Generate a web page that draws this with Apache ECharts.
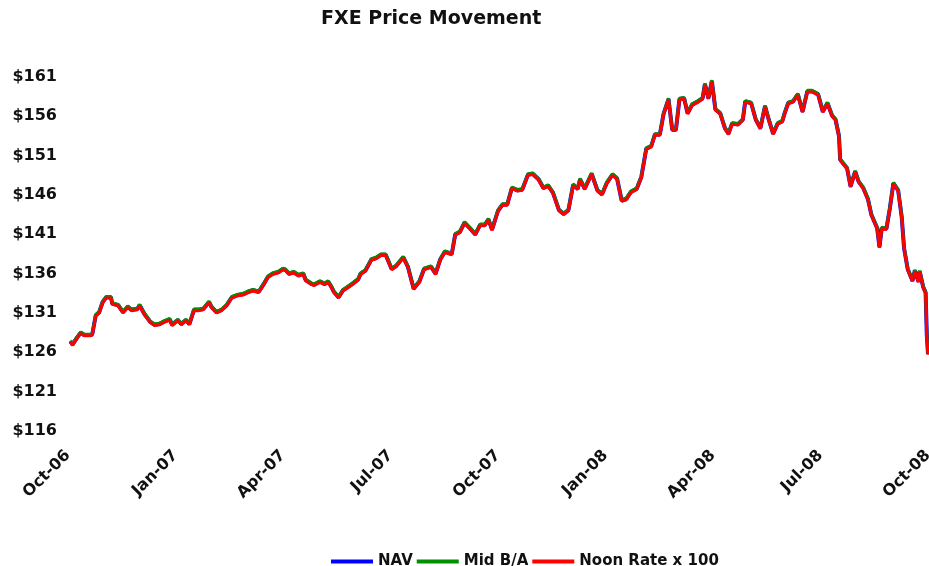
<!DOCTYPE html>
<html>
<head>
<meta charset="utf-8">
<script src="https://cdn.jsdelivr.net/npm/echarts@6/dist/echarts.min.js"></script>
<style>
html,body{margin:0;padding:0;background:#fff;}
#chart{width:929px;height:566px;}
</style>
</head>
<body>
<div id="chart"></div>
<script>
const tickLabels = ['Oct-06','Jan-07','Apr-07','Jul-07','Oct-07','Jan-08','Apr-08','Jul-08','Oct-08'];
const seriesNames = ['NAV','Mid B/A','Noon Rate x 100'];

const dates = [
'2006-10-03','2006-10-05','2006-10-09','2006-10-12','2006-10-15','2006-10-20','2006-10-22','2006-10-25','2006-10-28','2006-10-31',
'2006-11-03','2006-11-07','2006-11-08','2006-11-13','2006-11-17','2006-11-21','2006-11-24','2006-11-29','2006-12-01','2006-12-05',
'2006-12-10','2006-12-14','2006-12-18','2006-12-22','2006-12-27','2006-12-29','2007-01-03','2007-01-06','2007-01-10','2007-01-13',
'2007-01-17','2007-01-21','2007-01-25','2007-01-30','2007-02-01','2007-02-05','2007-02-09','2007-02-13','2007-02-17','2007-02-22',
'2007-02-26','2007-03-02','2007-03-06','2007-03-11','2007-03-15','2007-03-19','2007-03-23','2007-03-28','2007-04-01','2007-04-03',
'2007-04-06','2007-04-10','2007-04-14','2007-04-18','2007-04-20','2007-04-25','2007-04-27','2007-05-02','2007-05-06','2007-05-09',
'2007-05-12','2007-05-14','2007-05-18','2007-05-22','2007-05-26','2007-05-30','2007-06-04','2007-06-06','2007-06-10','2007-06-15',
'2007-06-19','2007-06-23','2007-06-27','2007-07-02','2007-07-06','2007-07-12','2007-07-16','2007-07-21','2007-07-26','2007-07-30',
'2007-08-05','2007-08-09','2007-08-13','2007-08-17','2007-08-23','2007-08-26','2007-08-30','2007-09-03','2007-09-08','2007-09-12',
'2007-09-16','2007-09-20','2007-09-23','2007-09-26','2007-10-01','2007-10-05','2007-10-09','2007-10-13','2007-10-18','2007-10-22',
'2007-10-27','2007-10-31','2007-11-05','2007-11-09','2007-11-13','2007-11-17','2007-11-22','2007-11-26','2007-11-30','2007-12-04',
'2007-12-08','2007-12-10','2007-12-14','2007-12-20','2007-12-25','2007-12-29','2008-01-02','2008-01-07','2008-01-11','2008-01-15',
'2008-01-19','2008-01-23','2008-01-28','2008-02-01','2008-02-05','2008-02-09','2008-02-12','2008-02-16','2008-02-19','2008-02-23',
'2008-02-26','2008-02-29','2008-03-03','2008-03-07','2008-03-10','2008-03-14','2008-03-19','2008-03-23','2008-03-25','2008-03-28',
'2008-03-31','2008-04-03','2008-04-07','2008-04-11','2008-04-14','2008-04-17','2008-04-22','2008-04-26','2008-04-28','2008-05-03',
'2008-05-07','2008-05-11','2008-05-15','2008-05-18','2008-05-22','2008-05-26','2008-05-30','2008-06-01','2008-06-04','2008-06-08',
'2008-06-12','2008-06-16','2008-06-20','2008-06-24','2008-06-29','2008-07-03','2008-07-07','2008-07-11','2008-07-14','2008-07-17',
'2008-07-18','2008-07-24','2008-07-27','2008-07-31','2008-08-03','2008-08-07','2008-08-11','2008-08-14','2008-08-19','2008-08-21',
'2008-08-23','2008-08-27','2008-08-30','2008-09-02','2008-09-06','2008-09-09','2008-09-11','2008-09-14','2008-09-18','2008-09-20',
'2008-09-23','2008-09-24','2008-09-27','2008-09-29','2008-09-30','2008-10-01'
];

const navValues = [
127.4,127.0,127.9,128.5,128.2,128.2,128.3,130.7,131.1,132.4,
133.0,133.0,132.2,132.0,131.1,131.8,131.4,131.5,132.0,130.9,
129.9,129.5,129.6,129.9,130.2,129.5,130.1,129.6,130.1,129.6,
131.4,131.4,131.5,132.4,131.8,131.1,131.4,132.0,133.0,133.3,
133.4,133.7,133.9,133.7,134.6,135.6,136.0,136.2,136.6,136.5,
136.0,136.2,135.8,136.0,135.2,134.7,134.6,135.0,134.7,135.0,
134.3,133.7,133.0,133.9,134.3,134.7,135.3,136.0,136.4,137.8,
138.0,138.4,138.4,136.6,137.0,138.1,136.9,134.1,135.0,136.6,
136.9,136.0,137.8,138.8,138.5,141.0,141.3,142.5,141.7,141.0,
142.2,142.2,142.9,141.6,144.0,144.8,144.8,146.9,146.6,146.7,
148.6,148.7,148.0,146.9,147.2,146.3,144.1,143.6,144.1,147.3,
146.8,148.0,146.8,148.7,146.6,146.1,147.5,148.6,148.1,145.3,
145.5,146.4,146.8,148.3,151.9,152.2,153.7,153.7,156.3,158.2,
154.3,154.3,158.2,158.3,156.4,157.5,157.9,158.3,160.1,158.3,
160.5,156.9,156.4,154.5,153.8,155.1,155.0,155.6,157.9,157.7,
155.6,154.5,157.3,155.7,153.8,155.1,155.4,156.4,157.7,157.9,
158.8,156.6,159.2,159.2,158.8,156.6,157.7,156.1,155.6,153.5,
150.5,149.4,147.1,149.0,147.7,146.9,145.5,143.5,141.8,139.4,
141.8,141.7,144.3,147.5,146.6,143.2,139.2,136.6,135.1,136.4,
135.0,136.3,134.3,133.6,128.2,125.8
];

const midValues = [
127.5,127.1,128.0,128.6,128.3,128.3,128.4,130.8,131.2,132.5,
133.1,133.1,132.3,132.1,131.2,131.9,131.5,131.6,132.1,131.0,
130.0,129.6,129.7,130.0,130.3,129.6,130.2,129.7,130.2,129.7,
131.5,131.5,131.6,132.5,131.9,131.2,131.5,132.1,133.1,133.4,
133.5,133.8,134.0,133.8,134.7,135.7,136.1,136.3,136.7,136.6,
136.1,136.3,135.9,136.1,135.3,134.8,134.7,135.1,134.8,135.1,
134.4,133.8,133.1,134.0,134.4,134.8,135.4,136.1,136.5,137.9,
138.1,138.5,138.5,136.7,137.1,138.2,137.0,134.2,135.1,136.7,
137.0,136.1,137.9,138.9,138.6,141.1,141.4,142.6,141.8,141.1,
142.3,142.3,143.0,141.7,144.1,144.9,144.9,147.0,146.7,146.8,
148.7,148.8,148.1,147.0,147.3,146.4,144.2,143.7,144.2,147.4,
146.9,148.1,146.9,148.8,146.7,146.2,147.6,148.7,148.2,145.4,
145.6,146.5,146.9,148.4,152.0,152.3,153.8,153.8,156.4,158.3,
154.4,154.4,158.3,158.4,156.5,157.6,158.0,158.4,160.2,158.4,
160.6,157.0,156.5,154.6,153.9,155.2,155.1,155.7,158.0,157.8,
155.7,154.6,157.4,155.8,153.9,155.2,155.5,156.5,157.8,158.0,
158.9,156.7,159.3,159.3,158.9,156.7,157.8,156.2,155.7,153.6,
150.6,149.5,147.2,149.1,147.8,147.0,145.6,143.6,141.9,139.5,
141.9,141.8,144.4,147.6,146.7,143.3,139.3,136.7,135.2,136.5,
135.1,136.4,134.4,133.7,128.3,125.9
];

const noonValues = [
127.3,126.9,127.8,128.4,128.1,128.1,128.2,130.6,131.0,132.3,
132.9,132.9,132.1,131.9,131.0,131.7,131.3,131.4,131.9,130.8,
129.8,129.4,129.5,129.8,130.1,129.4,130.0,129.5,130.0,129.5,
131.3,131.3,131.4,132.3,131.7,131.0,131.3,131.9,132.9,133.2,
133.3,133.6,133.8,133.6,134.5,135.5,135.9,136.1,136.5,136.4,
135.9,136.1,135.7,135.9,135.1,134.6,134.5,134.9,134.6,134.9,
134.2,133.6,132.9,133.8,134.2,134.6,135.2,135.9,136.3,137.7,
137.9,138.3,138.3,136.5,136.9,138.0,136.8,134.0,134.9,136.5,
136.8,135.9,137.7,138.7,138.4,140.9,141.2,142.4,141.6,140.9,
142.1,142.1,142.8,141.5,143.9,144.7,144.7,146.8,146.5,146.6,
148.5,148.6,147.9,146.8,147.1,146.2,144.0,143.5,144.0,147.2,
146.7,147.9,146.7,148.6,146.5,146.0,147.4,148.5,148.0,145.2,
145.4,146.3,146.7,148.2,151.8,152.1,153.6,153.6,156.2,158.1,
154.2,154.2,158.1,158.2,156.3,157.4,157.8,158.2,160.0,158.2,
160.4,156.8,156.3,154.4,153.7,155.0,154.9,155.5,157.8,157.6,
155.5,154.4,157.2,155.6,153.7,155.0,155.3,156.3,157.6,157.8,
158.7,156.5,159.1,159.1,158.7,156.5,157.6,156.0,155.5,153.4,
150.4,149.3,147.0,148.9,147.6,146.8,145.4,143.4,141.7,139.3,
141.7,141.6,144.2,147.4,146.5,143.1,139.1,136.5,135.0,136.3,
134.9,136.2,134.2,133.5,128.1,125.7
];

function toMonth(s) {
  const p = s.split('-').map(Number);
  const dim = new Date(p[0], p[1], 0).getDate();
  return (p[0] - 2006) * 12 + (p[1] - 10) + (p[2] - 1) / dim;
}
function pairs(vals) { return dates.map((d, i) => [toMonth(d), vals[i]]); }

const FONT = 'DejaVu Sans';
const chart = echarts.init(document.getElementById('chart'), null, {renderer: 'canvas'});
const lineSeries = (name, vals, color, width) => ({
  name, type: 'line', data: pairs(vals), showSymbol: false, symbol: 'none',
  lineStyle: {color, width}, itemStyle: {color}, animation: false
});

chart.setOption({
  backgroundColor: '#fff',
  animation: false,
  title: {
    text: 'FXE Price Movement', left: 316, top: 5,
    textStyle: {fontFamily: FONT, fontWeight: 'bold', fontSize: 19, color: '#111'}
  },
  grid: {left: 68, right: 1, top: 77, bottom: 135, containLabel: false, outerBoundsMode: 'none'},
  xAxis: {
    type: 'value', min: 0, max: 24, interval: 3,
    axisLine: {show: false}, axisTick: {show: false}, splitLine: {show: false},
    axisLabel: {
      rotate: 45, margin: 22, fontFamily: FONT, fontWeight: 'bold', fontSize: 16, color: '#111',
      hideOverlap: false, showMinLabel: true, showMaxLabel: true,
      formatter: v => tickLabels[Math.round(v / 3)]
    }
  },
  yAxis: {
    type: 'value', min: 116, max: 161, interval: 5,
    axisLine: {show: false}, axisTick: {show: false}, splitLine: {show: false},
    axisLabel: {margin: 11, fontFamily: FONT, fontWeight: 'bold', fontSize: 16, color: '#111',
      formatter: v => '$' + v}
  },
  legend: {
    data: seriesNames, left: 326, top: 549, icon: 'rect', itemWidth: 42, itemHeight: 4, itemGap: 4,
    textStyle: {fontFamily: FONT, fontWeight: 'bold', fontSize: 15, color: '#111'}
  },
  series: [
    lineSeries(seriesNames[0], navValues, '#0000ff', 4),
    lineSeries(seriesNames[1], midValues, '#009000', 3),
    lineSeries(seriesNames[2], noonValues, '#ff0000', 3)
  ]
});
</script>
</body>
</html>
